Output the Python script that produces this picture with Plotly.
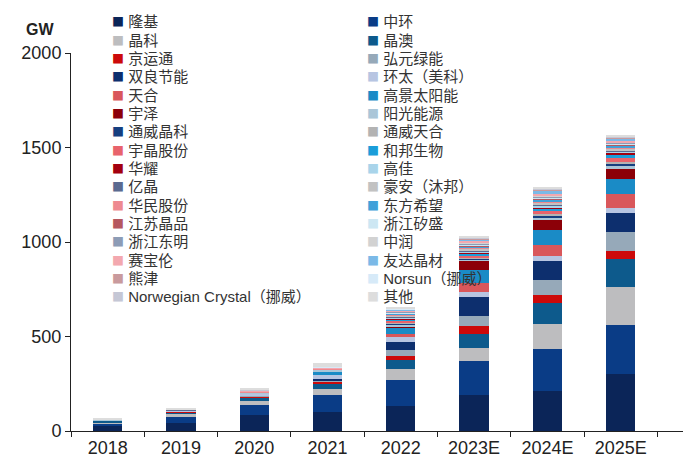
import plotly.graph_objects as go

years = ["2018", "2019", "2020", "2021", "2022", "2023E", "2024E", "2025E"]

# Capacity by company (GW), stacked bottom -> top
longi       = [25, 42, 83, 100, 131, 189, 212, 300]   # 隆基
zhonghuan   = [14, 32, 53, 88, 141, 180, 224, 261]    # 中环
jinko       = [8, 14, 24, 32, 58, 70, 132, 200]       # 晶科
jaSolar     = [6, 12, 18, 30, 44, 76, 111, 148]       # 晶澳
jingyuntong = [0, 2, 3, 12, 21, 39, 41, 42]           # 京运通
hongyuan    = [0, 0, 5, 5, 35, 53, 78, 100]           # 弘元绿能
shuangliang = [0, 0, 0, 8, 40, 102, 99, 100]          # 双良节能
huantai     = [4, 6, 10, 20, 30, 25, 30, 30]          # 环太（美科）
trina       = [0, 0, 0, 0, 14, 49, 58, 72]            # 天合
gaojing     = [0, 0, 0, 18, 32, 71, 78, 80]           # 高景太阳能
yuze        = [0, 0, 0, 0, 8, 46, 58, 57]             # 宇泽
yangguang   = [2, 3, 6, 12, 8, 6, 10, 10]             # 阳光能源
twJinko     = [0, 0, 0, 0, 8, 8, 10, 12]              # 通威晶科
twTrina     = [0, 0, 0, 0, 5, 6, 8, 12]               # 通威天合
yujing      = [0, 0, 0, 0, 10, 10, 16, 20]            # 宇晶股份
hebang      = [0, 0, 0, 0, 5, 8, 14, 20]              # 和邦生物
huayao      = [0, 0, 0, 0, 5, 6, 6, 8]                # 华耀
gaojia      = [0, 0, 0, 0, 6, 6, 8, 8]                # 高佳
yijing      = [1, 2, 3, 3, 5, 6, 6, 5]                # 亿晶
haoan       = [0, 0, 0, 0, 5, 8, 8, 8]                # 豪安（沐邦）
huamin      = [1, 2, 3, 3, 5, 6, 8, 6]                # 华民股份
dongfang    = [0, 0, 0, 0, 5, 8, 10, 10]              # 东方希望
jiangsuJp   = [0, 0, 0, 0, 3, 5, 5, 5]                # 江苏晶品
zjXisheng   = [0, 0, 0, 0, 3, 5, 5, 5]                # 浙江矽盛
zjDongming  = [0, 0, 2, 2, 3, 5, 5, 5]                # 浙江东明
zhongrun    = [0, 0, 0, 0, 3, 5, 6, 5]                # 中润
saibaolun   = [0, 0, 2, 2, 5, 8, 10, 8]               # 赛宝伦
youda       = [0, 0, 0, 0, 4, 8, 16, 12]              # 友达晶材
xiongjin    = [0, 0, 2, 2, 3, 4, 4, 3]                # 熊津
norsun      = [0, 0, 2, 2, 2, 3, 4, 3]                # Norsun（挪威）
nCrystal    = [0, 0, 2, 2, 2, 3, 4, 3]                # Norwegian Crystal（挪威）
others      = [4, 5, 10, 21, 5, 4, 6, 5]              # 其他

names = ["隆基", "中环", "晶科", "晶澳", "京运通", "弘元绿能", "双良节能", "环太（美科）",
         "天合", "高景太阳能", "宇泽", "阳光能源", "通威晶科", "通威天合", "宇晶股份", "和邦生物",
         "华耀", "高佳", "亿晶", "豪安（沐邦）", "华民股份", "东方希望", "江苏晶品", "浙江矽盛",
         "浙江东明", "中润", "赛宝伦", "友达晶材", "熊津", "Norsun（挪威）",
         "Norwegian Crystal（挪威）", "其他"]

values = [longi, zhonghuan, jinko, jaSolar, jingyuntong, hongyuan, shuangliang, huantai,
          trina, gaojing, yuze, yangguang, twJinko, twTrina, yujing, hebang,
          huayao, gaojia, yijing, haoan, huamin, dongfang, jiangsuJp, zjXisheng,
          zjDongming, zhongrun, saibaolun, youda, xiongjin, norsun, nCrystal, others]

colors = ["#0b2558", "#0a3c86", "#bdbdbf", "#0d5a8c", "#cc0a0a", "#96a9b9", "#0d2f6e", "#b7c5e2",
          "#d9575b", "#1a8bc6", "#8c0008", "#aac6d8", "#163f80", "#b3b3b3", "#e8636c", "#1b9dd9",
          "#a3000f", "#a9d4ea", "#5b6a90", "#c2c2c2", "#ee8a90", "#40a1d9", "#b6585f", "#cde7f3",
          "#8d9cb6", "#d2d2d2", "#f3a8af", "#7bb9e7", "#c99a9d", "#d7eaf8", "#c5c7d5", "#dddddd"]

W, H = 685, 465
ML, MR, MT, MB = 63, 10, 45, 42
PW, PH = W - ML - MR, H - MT - MB


def px_x(px):
    return (px - ML) / PW


def px_y(py):
    return (H - MB - py) / PH


fig = go.Figure()
for n, v, c in zip(names, values, colors):
    fig.add_trace(go.Bar(x=years, y=v, name=n, marker=dict(color=c, line=dict(width=0)),
                         width=0.4, showlegend=False))

# Two-column legend (row-wise order, as in the source chart), drawn as text
ann = []
col_x = [102, 357]          # px from figure left: square left edge
row0, row_step = 14, 18.33  # px from figure top: row centres
for i, (n, c) in enumerate(zip(names, colors)):
    col, row = i % 2, i // 2
    px, py = col_x[col], row0 + row * row_step
    ann.append(dict(
        text=f'<span style="color:{c};font-family:Noto Sans CJK SC;font-size:12px">■</span> {n}',
        xref="paper", yref="paper",
        x=px_x(px), y=px_y(py),
        xanchor="left", yanchor="middle", showarrow=False,
        font=dict(family="Liberation Sans, Noto Sans CJK SC, sans-serif", size=15, color="#333"),
    ))
ann.append(dict(text="<b>GW</b>", xref="paper", yref="paper",
                x=px_x(32), y=px_y(22),
                xanchor="center", yanchor="middle", showarrow=False,
                font=dict(family="Liberation Sans, Arial, sans-serif", size=16, color="#222")))

fig.update_layout(
    barmode="stack",
    width=W, height=H,
    margin=dict(l=ML, r=MR, t=MT, b=MB, autoexpand=False),
    plot_bgcolor="white", paper_bgcolor="white",
    font=dict(family="Liberation Sans, Arial, sans-serif", size=18, color="#222"),
    showlegend=False,
    xaxis=dict(
        range=[-0.5, 7.85], showline=True, linecolor="#222", linewidth=1,
        ticks="outside", tickson="boundaries", ticklen=5, tickcolor="#222",
        showgrid=False, tickfont=dict(size=18),
    ),
    yaxis=dict(
        range=[0, 2000], tickvals=[0, 500, 1000, 1500, 2000],
        showline=True, linecolor="#222", linewidth=1,
        ticks="outside", ticklen=5, tickcolor="#222",
        showgrid=False, zeroline=False, tickfont=dict(size=18),
    ),
    annotations=ann,
)

fig.write_html("out.html")
